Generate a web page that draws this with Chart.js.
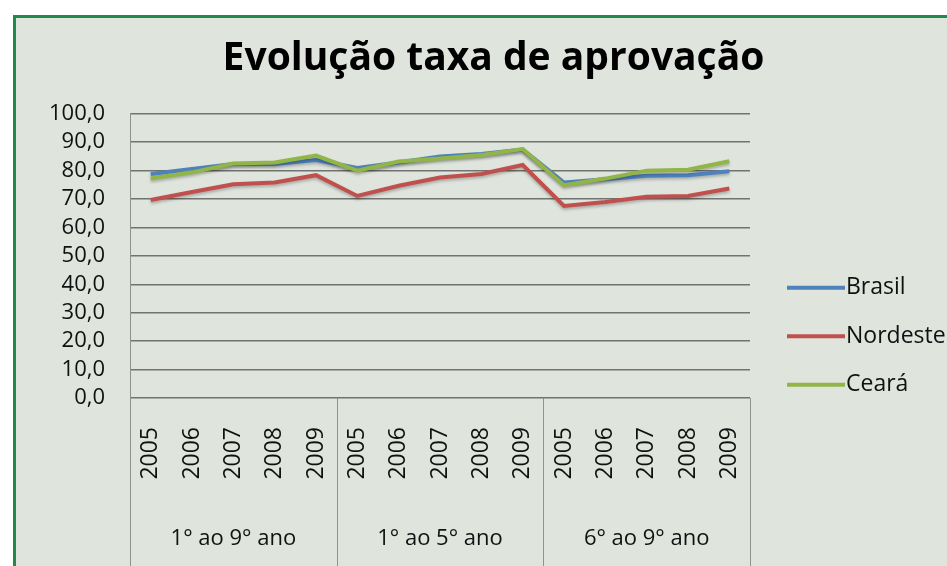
<!DOCTYPE html>
<html>
<head>
<meta charset="utf-8">
<script src="https://cdn.jsdelivr.net/npm/chart.js@4.4.0/dist/chart.umd.min.js"></script>
<style>
  html, body { margin: 0; padding: 0; background: #fff; overflow: hidden; }
  #frame {
    position: absolute; left: 13px; top: 15px; width: 1000px; height: 600px;
    border: 3px solid #1f8a4e; background: #dfe4dd; box-sizing: border-box;
  }
  #wrap { position: absolute; left: 0; top: 0; width: 947px; height: 566px; }
</style>
</head>
<body>
<div id="frame"></div>
<div id="wrap"><canvas id="chart" width="947" height="566"></canvas></div>
<script>
// categories
const years = ["2005", "2006", "2007", "2008", "2009",
               "2005", "2006", "2007", "2008", "2009",
               "2005", "2006", "2007", "2008", "2009"];
const groups = ["1° ao 9° ano", "1° ao 5° ano", "6° ao 9° ano"];

// approval rate (%)
const brasil   = [78.8, 80.6, 82.3, 82.3, 83.7, 80.9, 82.9, 85.0, 85.9, 87.4, 75.8, 77.0, 78.2, 78.4, 79.8];
const nordeste = [69.7, 72.5, 75.2, 75.8, 78.4, 71.1, 74.7, 77.6, 78.8, 82.0, 67.6, 69.0, 70.8, 71.1, 73.7];
const ceara    = [77.2, 79.4, 82.5, 82.9, 85.3, 80.0, 83.2, 84.3, 85.5, 87.6, 74.9, 77.2, 80.0, 80.3, 83.3];

const FONT = "'Open Sans', sans-serif";

// group separators below the x axis
const separators = {
  id: "separators",
  afterDraw(chart) {
    const ctx = chart.ctx;
    const x = chart.scales.x;
    const area = chart.chartArea;
    const step = x.getPixelForValue(1) - x.getPixelForValue(0);
    ctx.save();
    ctx.strokeStyle = "#8f928f";
    ctx.lineWidth = 1;
    for (let i = 0; i <= years.length; i += 5) {
      const px = Math.round(x.getPixelForValue(i) - step / 2) + 0.5;
      ctx.beginPath();
      ctx.moveTo(px, area.bottom);
      ctx.lineTo(px, chart.height);
      ctx.stroke();
    }
    ctx.restore();
  }
};

// legend on the right, placed like the original
const sideLegend = {
  id: "sideLegend",
  afterDraw(chart) {
    const ctx = chart.ctx;
    const area = chart.chartArea;
    ctx.save();
    ctx.font = "23px " + FONT;
    ctx.textBaseline = "middle";
    ctx.fillStyle = "#111";
    chart.data.datasets.forEach((ds, i) => {
      const y = area.top + 174 + i * 48.5;
      ctx.strokeStyle = ds.borderColor;
      ctx.lineWidth = 4;
      ctx.beginPath();
      ctx.moveTo(area.right + 37, y);
      ctx.lineTo(area.right + 95, y);
      ctx.stroke();
      ctx.fillText(ds.label, area.right + 96, y);
    });
    ctx.restore();
  }
};

// soft shadow under the lines
const lineShadow = {
  id: "lineShadow",
  beforeDatasetDraw(chart) {
    const ctx = chart.ctx;
    ctx.save();
    ctx.shadowColor = "rgba(0,0,0,0.25)";
    ctx.shadowBlur = 3;
    ctx.shadowOffsetY = 2;
  },
  afterDatasetDraw(chart) {
    chart.ctx.restore();
  }
};

const ctx = document.getElementById("chart").getContext("2d");
new Chart(ctx, {
  type: "line",
  data: {
    labels: years,
    datasets: [
      { label: "Brasil", data: brasil, borderColor: "#4f81bd", order: 1 },
      { label: "Nordeste", data: nordeste, borderColor: "#c0504d", order: 2 },
      { label: "Ceará", data: ceara, borderColor: "#92b548", order: 0 }
    ]
  },
  options: {
    responsive: false,
    animation: false,
    events: [],
    datasets: {
      line: { borderWidth: 4, pointRadius: 0, tension: 0, fill: false }
    },
    layout: { padding: { left: 40, right: 0, top: 0, bottom: 0 } },
    plugins: {
      title: {
        display: true,
        text: "Evolução taxa de aprovação",
        color: "#000",
        font: { family: FONT, size: 39, weight: "bold" },
        padding: { top: 35, bottom: 32 }
      },
      legend: { display: false },
      tooltip: { enabled: false }
    },
    scales: {
      x: {
        offset: true,
        afterFit: s => { s.height = 90; },
        grid: { display: false, drawTicks: false, tickLength: 0 },
        border: { display: false },
        ticks: {
          color: "#111",
          font: { family: FONT, size: 23 },
          minRotation: 90, maxRotation: 90,
          padding: 29,
          autoSkip: false
        }
      },
      x2: {
        type: "category",
        labels: groups,
        position: "bottom",
        offset: true,
        afterFit: s => { s.height = 78; },
        grid: { display: false, drawTicks: false, tickLength: 0 },
        border: { display: false },
        ticks: { color: "#111", font: { family: FONT, size: 22 }, padding: 38 }
      },
      y: {
        min: 0, max: 100,
        afterFit: s => { s.width = 90; },
        ticks: {
          stepSize: 10,
          autoSkip: false,
          color: "#111",
          font: { family: FONT, size: 22 },
          padding: 25,
          callback: v => v.toFixed(1).replace(".", ",")
        },
        grid: { color: "#707370", lineWidth: 1.5, drawTicks: false },
        border: { display: true, color: "#8f928f", width: 1 }
      },
      // empty axis that keeps room for the legend on the right
      side: {
        position: "right",
        afterFit: s => { s.width = 197; },
        ticks: { display: false },
        grid: { display: false },
        border: { display: false }
      }
    }
  },
  plugins: [separators, sideLegend, lineShadow]
});
</script>
</body>
</html>
